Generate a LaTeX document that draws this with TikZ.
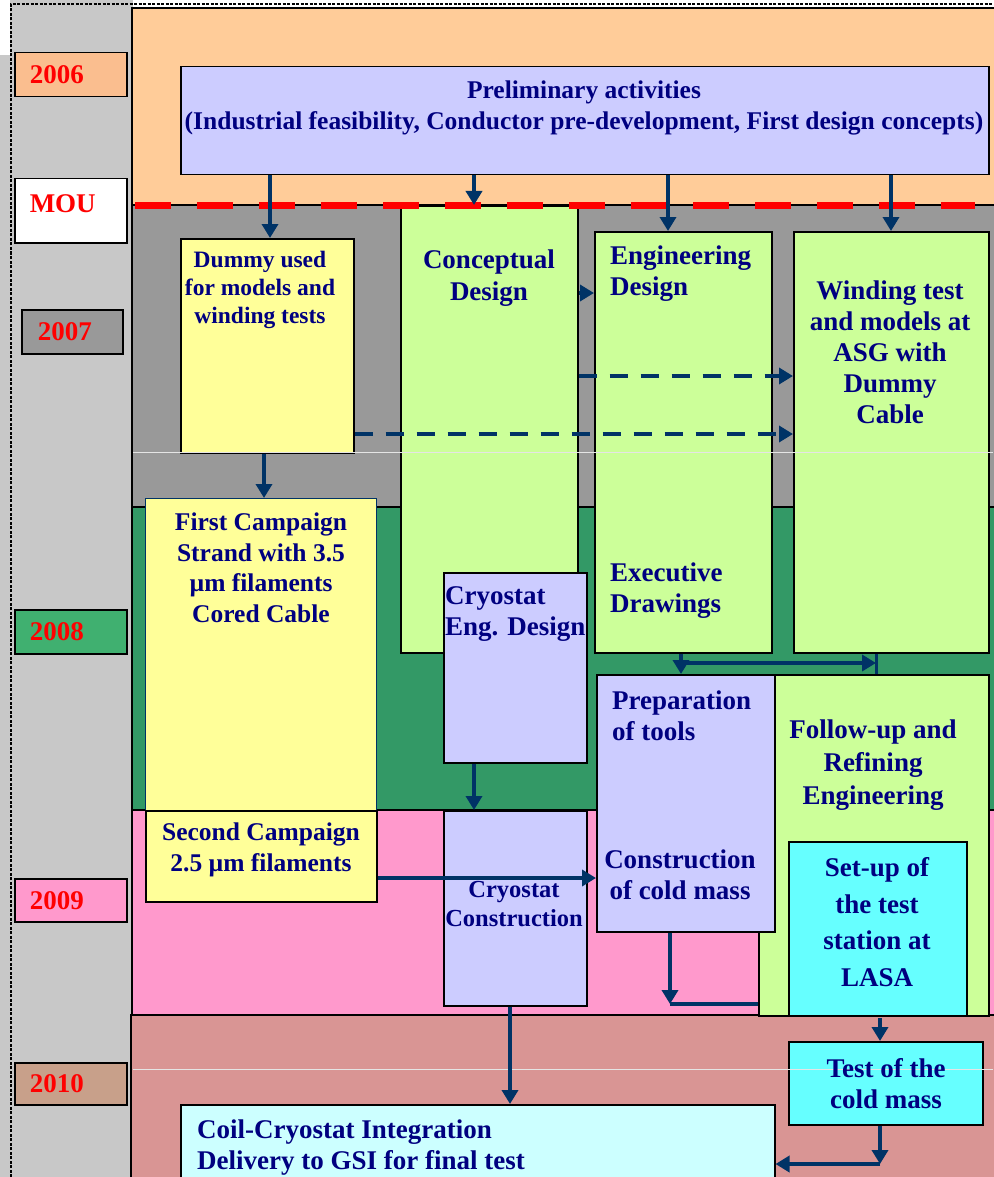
\documentclass[tikz,border=0pt]{standalone}
\usepackage{fontspec}
\setmainfont{Liberation Serif}
\usetikzlibrary{arrows.meta, positioning}
\definecolor{navytext}{RGB}{0,0,128}
\definecolor{flowblue}{RGB}{0,51,102}
\definecolor{bandorange}{RGB}{255,204,153}
\definecolor{bandgray}{RGB}{153,153,153}
\definecolor{bandgreen}{RGB}{51,153,102}
\definecolor{bandpink}{RGB}{255,153,204}
\definecolor{bandrose}{RGB}{217,149,148}
\definecolor{boxlav}{RGB}{204,204,255}
\definecolor{boxyellow}{RGB}{255,255,153}
\definecolor{boxgreen}{RGB}{204,255,153}
\definecolor{boxcyan}{RGB}{102,255,255}
\definecolor{boxice}{RGB}{204,255,255}
\definecolor{stripgray}{RGB}{200,200,200}
\definecolor{tag2006}{RGB}{250,190,143}
\definecolor{tag2008}{RGB}{64,176,112}
\definecolor{tag2010}{RGB}{200,160,138}

\begin{document}
\begin{tikzpicture}[x=1pt, y=-1pt,
  wbox/.style={draw=black, line width=1.5pt, anchor=north west, inner sep=0pt},
  lbl/.style={text=navytext, align=center, inner sep=0pt, font=\bfseries\fontsize{27}{31}\selectfont},
  yeartag/.style={draw=black, line width=1.5pt, anchor=north west, minimum height=44pt, minimum width=112pt, text width=82pt, inner xsep=15pt, inner ysep=0pt, align=left, text=red, font=\bfseries\fontsize{27}{31}\selectfont},
  flow/.style={draw=flowblue, line width=4pt, -{Triangle[width=16pt,length=14pt]}},
  dflow/.style={flow, dash pattern=on 18pt off 13pt},
  tie/.style={draw=flowblue, line width=4pt}
]
  \useasboundingbox (0,0) rectangle (993,1177);

  % year bands
  \fill[stripgray] (0,0) rectangle (133,1177);
  \fill[white] (0,0) rectangle (10,55);
  \filldraw[fill=bandorange, draw=black, line width=1.5pt] (132,8) rectangle (995,205);
  \filldraw[fill=bandgray, draw=black, line width=1.2pt] (132,205) rectangle (995,507);
  \filldraw[fill=bandgreen, draw=black, line width=1.2pt] (132,507) rectangle (995,810);
  \filldraw[fill=bandpink, draw=black, line width=1.2pt] (132,810) rectangle (995,1015);
  \filldraw[fill=bandrose, draw=black, line width=1.5pt] (131,1015) rectangle (995,1190);
  \draw[black, line width=2.5pt, dash pattern=on 3pt off 1.5pt] (11,1177) -- (11,4) -- (993,4);

  % year tags
  \node[yeartag, fill=tag2006] (y2006) at (14,52) {2006};
  \node[yeartag, fill=white, minimum height=64pt, text depth=14pt] (mou) at (14,178) {MOU};
  \node[yeartag, fill=bandgray, minimum width=101pt, text width=69pt, inner xsep=16pt] (y2007) at (21,309) {2007};
  \node[yeartag, fill=tag2008] (y2008) at (14,609) {2008};
  \node[yeartag, fill=bandpink, minimum height=43pt] (y2009) at (14,878) {2009};
  \node[yeartag, fill=tag2010, minimum height=42pt] (y2010) at (14,1062) {2010};

  % activity boxes
  \node[wbox, fill=boxlav, minimum width=808pt, minimum height=108pt] (prelim) at (180,66) {};
  \node[wbox, fill=boxyellow, minimum width=173pt, minimum height=214pt] (dummy) at (180,238) {};
  \node[wbox, fill=boxgreen, minimum width=177pt, minimum height=447pt] (concept) at (400,205) {};
  \node[wbox, fill=boxgreen, minimum width=177pt, minimum height=421pt] (eng) at (594,231) {};
  \node[wbox, fill=boxgreen, minimum width=195pt, minimum height=421pt] (wind) at (793,231) {};
  \node[wbox, draw=flowblue, line width=1.2pt, fill=boxyellow, minimum width=231pt, minimum height=312pt] (first) at (145,498) {};
  \node[wbox, fill=boxyellow, minimum width=231pt, minimum height=91pt] (second) at (145,810) {};
  \node[wbox, fill=boxlav, minimum width=143pt, minimum height=190pt] (cryoeng) at (443,572) {};
  \node[wbox, fill=boxlav, minimum width=143pt, minimum height=195pt] (cryocon) at (443,810) {};
  \node[wbox, fill=boxgreen, minimum width=230pt, minimum height=341pt] (followup) at (758,674) {};
  \node[wbox, fill=boxlav, minimum width=178pt, minimum height=257pt] (prep) at (596,674) {};
  \node[wbox, fill=boxcyan, minimum width=178pt, minimum height=174pt] (setup) at (788,841) {};
  \node[wbox, fill=boxcyan, minimum width=194pt, minimum height=83pt] (testcm) at (788,1041) {};
  \node[wbox, fill=boxice, minimum width=594pt, minimum height=90pt] (coil) at (180,1104) {};

  % faint grid lines and MOU line
  \draw[white!80!gray, line width=0.8pt] (133,452) -- (993,452);
  \draw[white!80!gray, line width=0.8pt] (133,1069) -- (993,1069);
  \draw[red, line width=7pt, dash pattern=on 36pt off 26pt] (135,205) -- (975,205);

  % texts
  \node[lbl, font=\bfseries\fontsize{25.5}{31}\selectfont] (prelimT) at (584,108) {Preliminary activities\\(Industrial feasibility, Conductor pre-development, First design concepts)};
  \node[lbl, font=\bfseries\fontsize{23.5}{28}\selectfont] (dummyT) at (260,290) {Dummy used\\for models and\\winding tests};
  \node[lbl, font=\bfseries\fontsize{27}{32}\selectfont] (conceptT) at (489,278) {Conceptual\\Design};
  \node[lbl, align=left, anchor=west] (engT) at (610,274) {Engineering\\Design};
  \node[lbl, align=left, anchor=west] (execT) at (610,591) {Executive\\Drawings};
  \node[lbl] (windT) at (890,352) {Winding test\\and models at\\ASG with\\Dummy\\Cable};
  \node[lbl, font=\bfseries\fontsize{25.5}{30.5}\selectfont] (firstT) at (261,568) {First Campaign\\Strand with 3.5\\µm filaments\\Cored Cable};
  \node[lbl, font=\bfseries\fontsize{25.5}{31}\selectfont] (secondT) at (261,850) {Second Campaign\\2.5 µm filaments};
  \node[lbl, align=left, anchor=west] (cryoengT) at (445,614) {Cryostat\\Eng. Design};
  \node[lbl, font=\bfseries\fontsize{24.5}{28.5}\selectfont] (cryoconT) at (514,904) {Cryostat\\Construction};
  \node[lbl, align=left, anchor=west] (prepT) at (612,716) {Preparation\\of tools};
  \node[lbl] (constrT) at (680,875) {Construction\\of cold mass};
  \node[lbl, font=\bfseries\fontsize{27}{33}\selectfont] (followT) at (873,765) {Follow-up and\\Refining\\Engineering};
  \node[lbl, font=\bfseries\fontsize{27}{36.5}\selectfont] (setupT) at (877,922) {Set-up of\\the test\\station at\\LASA};
  \node[lbl] (testT) at (886,1084) {Test of the\\cold mass};
  \node[lbl, align=left, anchor=west] (coilT) at (197,1148) {Coil-Cryostat Integration\\Delivery to GSI for final test};

  % connectors
  \draw[flow] (270,0 |- prelim.south) -- (270,0 |- dummy.north);
  \draw[flow] (474,0 |- prelim.south) -- (474,0 |- concept.north);
  \draw[flow] (668,0 |- prelim.south) -- (668,0 |- eng.north);
  \draw[flow] (891,0 |- prelim.south) -- (891,0 |- wind.north);
  \draw[flow] (concept.east |- 0,293) -- (eng.west |- 0,293);
  \draw[dflow] (concept.east |- 0,376) -- (wind.west |- 0,376);
  \draw[dflow] (dummy.east |- 0,434) -- (wind.west |- 0,434);
  \draw[flow] (264,0 |- dummy.south) -- (264,0 |- first.north);
  \coordinate (engout) at (681,663);
  \coordinate (windout) at (876,663);
  \draw[flow] (eng.south -| engout) -- (prep.north -| engout);
  \draw[flow] (engout) -- (windout);
  \draw[tie, line width=3pt] (wind.south -| windout) -- (followup.north -| windout);
  \draw[flow] (474,0 |- cryoeng.south) -- (474,0 |- cryocon.north);
  \draw[flow] (second.east |- 0,878) -- (prep.west |- 0,878);
  \coordinate (cmdrop) at (670,1004);
  \draw[flow] (prep.south -| cmdrop) -- (cmdrop);
  \draw[tie] (cmdrop) -- (followup.west |- cmdrop);
  \draw[flow] (510,0 |- cryocon.south) -- (510,0 |- coil.north);
  \draw[flow] (880,1018) -- (880,0 |- testcm.north);
  \coordinate (tcturn) at (880,1164);
  \draw[flow] (880,0 |- testcm.south) -- (tcturn);
  \draw[flow] (tcturn) -- (coil.east |- tcturn);
\end{tikzpicture}
\end{document}
